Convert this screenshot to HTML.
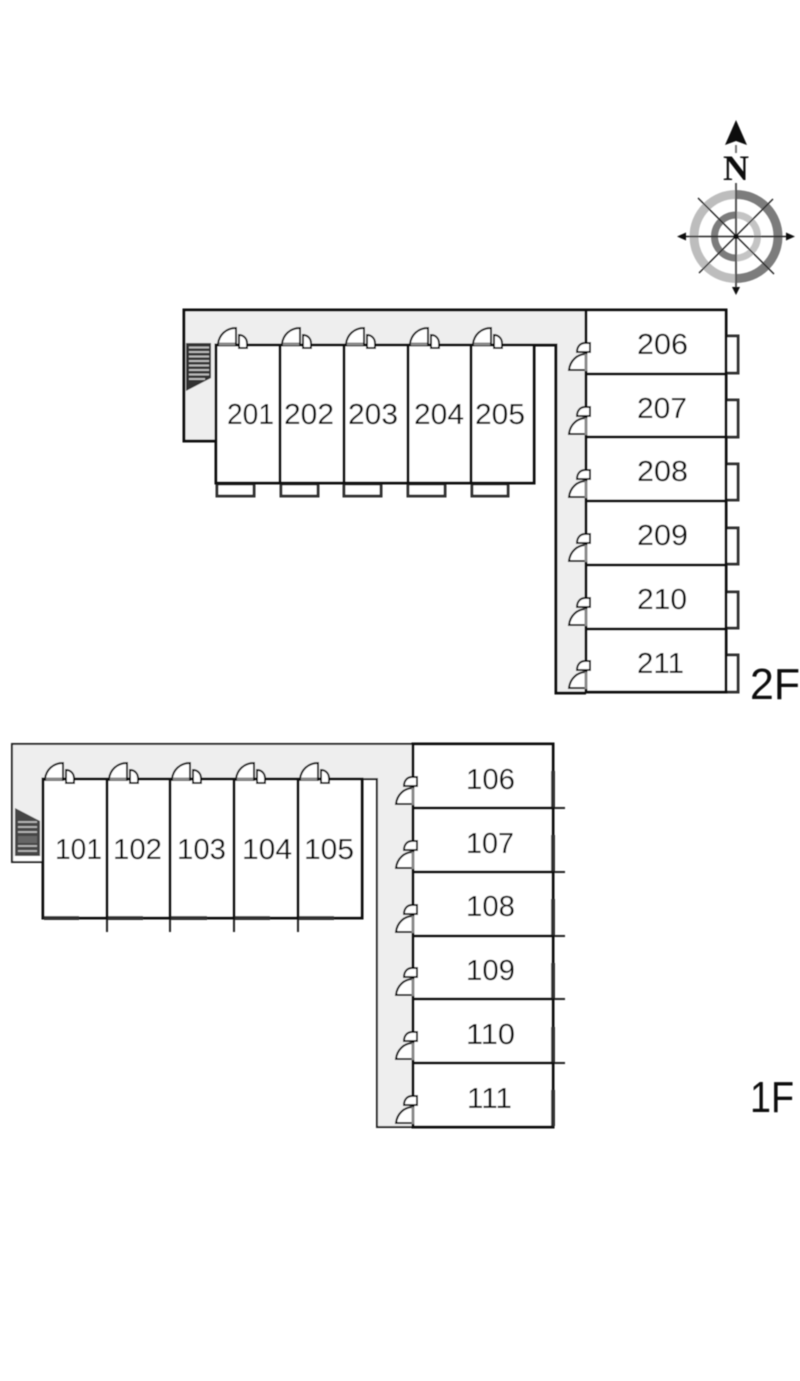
<!DOCTYPE html>
<html>
<head>
<meta charset="utf-8">
<style>
html,body{margin:0;padding:0;background:#fff;}
svg{display:block;}
text{font-family:"Liberation Sans",sans-serif;fill:#0c0c0c;font-size:29px;}
.u{fill:#fff;stroke:#0d0d0d;stroke-width:3;}
.l{stroke:#0d0d0d;stroke-width:3;fill:none;}
.t{stroke:#222;stroke-width:2;fill:none;}
.b{fill:#fff;stroke:#333;stroke-width:3;}
</style>
</head>
<body>
<svg width="800" height="1381" viewBox="0 0 800 1381" xmlns="http://www.w3.org/2000/svg">
<defs>
<filter id="bl" x="-2%" y="-2%" width="104%" height="104%"><feGaussianBlur stdDeviation="0.45"/></filter>
<g id="dt">
<path d="M2 0C3-9 10-16 20-16V1H2Z" fill="#fff" stroke="#111" stroke-width="2"/>
<path d="M3 0H19" stroke="#888" stroke-width="3"/>
<path d="M23-9C28-9 31-5 31-1V4H23Z" fill="#fff" stroke="#111" stroke-width="2"/>
</g>
<g id="dr">
<path d="M-17-4C-16-13-9-20 0-20V-4Z" fill="#fff" stroke="#111" stroke-width="2"/>
<path d="M-9-22C-9-27-6-31-1-31H4V-22Z" fill="#fff" stroke="#111" stroke-width="2"/>
<path d="M0-20V-3" stroke="#888" stroke-width="3"/>
</g>
</defs>
<g filter="url(#bl)">
<!-- 2F corridor -->
<path d="M184 310H586V693H556V345H216V441H184Z" fill="#eeeeee" stroke="none"/>
<path class="l" d="M216 441H184V310H586"/>
<path class="l" d="M534 345H556V693H586"/>
<!-- 2F stairs -->
<path d="M186 343H211V378L186 391Z" fill="#333"/>
<path d="M189 347.500H209M189 352H209M189 356.500H209M189 361H209M189 365.500H209M189 370H209M189 374.500H209M189 379H205" stroke="#c8c8c8" stroke-width="1.700"/>
<!-- 2F balconies bottom -->
<rect class="b" x="217" y="484" width="37" height="12"/>
<rect class="b" x="281" y="484" width="37" height="12"/>
<rect class="b" x="344" y="484" width="37" height="12"/>
<rect class="b" x="408" y="484" width="37" height="12"/>
<rect class="b" x="472" y="484" width="36" height="12"/>
<!-- 2F balconies right -->
<rect class="b" x="726" y="336" width="12" height="37"/>
<rect class="b" x="726" y="400" width="12" height="37"/>
<rect class="b" x="726" y="464" width="12" height="36"/>
<rect class="b" x="726" y="528" width="12" height="36"/>
<rect class="b" x="726" y="592" width="12" height="36"/>
<rect class="b" x="726" y="655" width="12" height="37"/>
<!-- 2F units top -->
<rect class="u" x="216" y="345" width="64" height="138"/>
<rect class="u" x="280" y="345" width="64" height="138"/>
<rect class="u" x="344" y="345" width="64" height="138"/>
<rect class="u" x="408" y="345" width="63" height="138"/>
<rect class="u" x="471" y="345" width="63" height="138"/>
<!-- 2F units right -->
<rect class="u" x="586" y="310" width="140" height="64"/>
<rect class="u" x="586" y="374" width="140" height="63"/>
<rect class="u" x="586" y="437" width="140" height="64"/>
<rect class="u" x="586" y="501" width="140" height="64"/>
<rect class="u" x="586" y="565" width="140" height="64"/>
<rect class="u" x="586" y="629" width="140" height="63"/>
<use href="#dt" x="216" y="344"/>
<use href="#dt" x="280" y="344"/>
<use href="#dt" x="344" y="344"/>
<use href="#dt" x="408" y="344"/>
<use href="#dt" x="471" y="344"/>
<use href="#dr" x="586" y="374"/>
<use href="#dr" x="586" y="438"/>
<use href="#dr" x="586" y="501"/>
<use href="#dr" x="586" y="565"/>
<use href="#dr" x="586" y="629"/>
<use href="#dr" x="586" y="692"/>

<!-- 1F corridor -->
<path d="M12 744H413V1127H377V779H43V862H12Z" fill="#eeeeee" stroke="none"/>
<path d="M14 856H41V861H14Z" fill="#fff"/>
<path class="t" d="M43 862H12V744H413"/>
<path class="t" d="M362 779H377V1127H413"/>
<!-- 1F stairs -->
<path d="M15 808L40 821V856H15Z" fill="#444"/>
<path d="M18 822H37M18 827H37M18 832H37M18 851H37M18 846H37" stroke="#bbb" stroke-width="1.700"/>
<path d="M18 836H37V843H18Z" fill="#666"/>
<!-- 1F ticks -->
<path class="t" d="M107 918V932M170 918V932M234 918V932M298 918V932"/>
<path class="t" d="M553 808H565M553 872H565M553 936H565M553 999H565M553 1063H565"/>
<!-- 1F units -->
<rect class="u" x="43" y="779" width="64" height="139"/>
<rect class="u" x="107" y="779" width="63" height="139"/>
<rect class="u" x="170" y="779" width="64" height="139"/>
<rect class="u" x="234" y="779" width="64" height="139"/>
<rect class="u" x="298" y="779" width="64" height="139"/>
<rect class="u" x="413" y="744" width="140" height="64"/>
<rect class="u" x="413" y="808" width="140" height="64"/>
<rect class="u" x="413" y="872" width="140" height="64"/>
<rect class="u" x="413" y="936" width="140" height="63"/>
<rect class="u" x="413" y="999" width="140" height="64"/>
<rect class="u" x="413" y="1063" width="140" height="64"/>
<!-- 1F balcony thickening -->
<path d="M44 918H79M108 918H143M171 918H207M235 918H270M299 918H334" stroke="#333" stroke-width="4"/>
<path d="M553 771V807M553 835V871M553 899V935M553 963V998M553 1027V1062M553 1090V1126" stroke="#333" stroke-width="4"/>
<use href="#dt" x="43" y="779"/>
<use href="#dt" x="107" y="779"/>
<use href="#dt" x="170" y="779"/>
<use href="#dt" x="234" y="779"/>
<use href="#dt" x="298" y="779"/>
<use href="#dr" x="413" y="808"/>
<use href="#dr" x="413" y="872"/>
<use href="#dr" x="413" y="936"/>
<use href="#dr" x="413" y="999"/>
<use href="#dr" x="413" y="1063"/>
<use href="#dr" x="413" y="1127"/>

<!-- Compass -->
<g fill="none">
<path d="M736 194.500A42 42 0 0 1 736 278.500" stroke="#7c7c7c" stroke-width="9"/>
<path d="M736 194.500A42 42 0 0 0 736 278.500" stroke="#bdbdbd" stroke-width="9"/>
<path d="M736 215A21.500 21.500 0 0 0 736 258" stroke="#7c7c7c" stroke-width="7"/>
<path d="M736 215A21.500 21.500 0 0 1 736 258" stroke="#c4c4c4" stroke-width="7"/>
<path d="M698 198L774 274M773 199L699 273M680 236.500H792" stroke="#222" stroke-width="1.400"/>
<path d="M736 183V290" stroke="#555" stroke-width="2"/>
<path d="M736 145V153" stroke="#777" stroke-width="2"/>
</g>
<path d="M736 120L747 145L736 141L725 145Z" fill="#111"/>
<path d="M677 236.500L686 232.500V240.500Z" fill="#111"/>
<path d="M795 236.500L786 232.500V240.500Z" fill="#111"/>
<path d="M736 295L732 287H740Z" fill="#111"/>
<circle cx="736" cy="236.500" r="2.500" fill="#111"/>
<text x="736" y="180" text-anchor="middle" style="font-family:'Liberation Serif',serif;font-weight:bold;font-size:36px;fill:#111" textLength="26" lengthAdjust="spacingAndGlyphs">N</text>

<!-- Labels -->
<text x="227" y="424" textLength="47" lengthAdjust="spacingAndGlyphs">201</text>
<text x="284" y="424" textLength="50" lengthAdjust="spacingAndGlyphs">202</text>
<text x="348" y="424" textLength="50" lengthAdjust="spacingAndGlyphs">203</text>
<text x="414" y="424" textLength="50" lengthAdjust="spacingAndGlyphs">204</text>
<text x="475" y="424" textLength="50" lengthAdjust="spacingAndGlyphs">205</text>
<text x="637" y="354" textLength="51" lengthAdjust="spacingAndGlyphs">206</text>
<text x="637" y="418" textLength="50" lengthAdjust="spacingAndGlyphs">207</text>
<text x="637" y="481" textLength="51" lengthAdjust="spacingAndGlyphs">208</text>
<text x="637" y="545" textLength="51" lengthAdjust="spacingAndGlyphs">209</text>
<text x="637" y="609" textLength="50" lengthAdjust="spacingAndGlyphs">210</text>
<text x="637" y="673" textLength="47" lengthAdjust="spacingAndGlyphs">211</text>
<text x="750" y="699" style="font-size:44px" textLength="50" lengthAdjust="spacingAndGlyphs">2F</text>

<text x="55" y="859" textLength="47" lengthAdjust="spacingAndGlyphs">101</text>
<text x="113" y="859" textLength="49" lengthAdjust="spacingAndGlyphs">102</text>
<text x="177" y="859" textLength="49" lengthAdjust="spacingAndGlyphs">103</text>
<text x="242" y="859" textLength="50" lengthAdjust="spacingAndGlyphs">104</text>
<text x="304" y="859" textLength="50" lengthAdjust="spacingAndGlyphs">105</text>
<text x="466" y="789" textLength="49" lengthAdjust="spacingAndGlyphs">106</text>
<text x="466" y="853" textLength="48" lengthAdjust="spacingAndGlyphs">107</text>
<text x="466" y="916" textLength="49" lengthAdjust="spacingAndGlyphs">108</text>
<text x="466" y="980" textLength="49" lengthAdjust="spacingAndGlyphs">109</text>
<text x="466" y="1044" textLength="49" lengthAdjust="spacingAndGlyphs">110</text>
<text x="467" y="1108" textLength="45" lengthAdjust="spacingAndGlyphs">111</text>
<text x="750" y="1112" style="font-size:44px" textLength="44" lengthAdjust="spacingAndGlyphs">1F</text>
</g>
</svg>
</body>
</html>
